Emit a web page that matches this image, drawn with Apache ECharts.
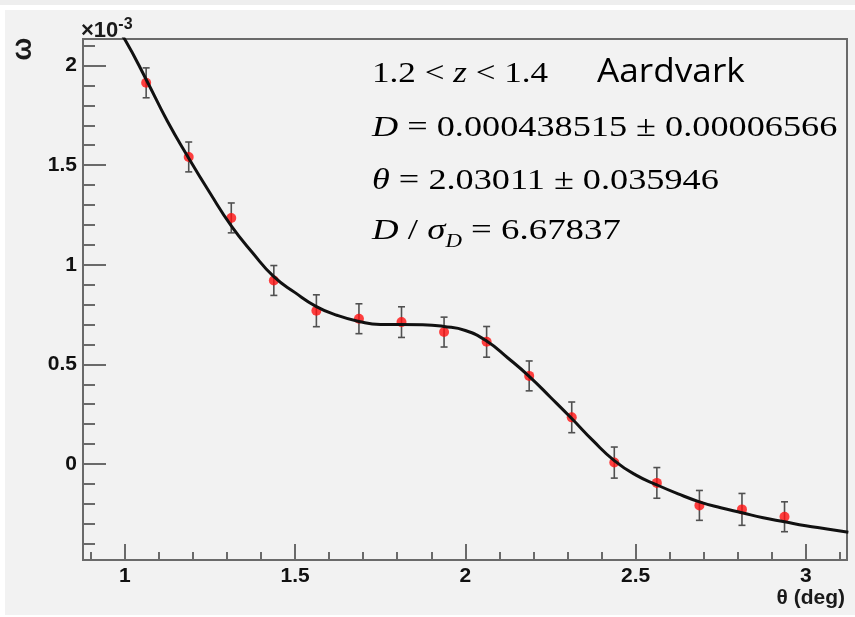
<!DOCTYPE html>
<html>
<head>
<meta charset="utf-8">
<script src="https://cdn.jsdelivr.net/npm/echarts@6/dist/echarts.min.js"></script>
<style>
html,body{margin:0;padding:0;background:#ffffff;}
#chart{width:855px;height:617px;}
</style>
</head>
<body>
<div id="chart"></div>
<script>
// ---- data (y values in units of 1e-3) ----
const pointsX = [1.0625, 1.1875, 1.3125, 1.4375, 1.5625, 1.6875, 1.8125, 1.9375, 2.0625, 2.1875, 2.3125, 2.4375, 2.5625, 2.6875, 2.8125, 2.9375];
const pointsY = [1.913, 1.541, 1.235, 0.921, 0.769, 0.729, 0.712, 0.662, 0.613, 0.442, 0.234, 0.007, -0.095, -0.208, -0.228, -0.265];
const pointsErr = [0.075, 0.075, 0.075, 0.075, 0.080, 0.075, 0.077, 0.075, 0.077, 0.075, 0.077, 0.078, 0.077, 0.075, 0.080, 0.075];

const fitX = [0.95, 1.0, 1.0625, 1.125, 1.1875, 1.25, 1.3125, 1.375, 1.4375, 1.5, 1.5625, 1.625, 1.6875, 1.75, 1.8125, 1.875, 1.9375, 2.0, 2.0625, 2.125, 2.1875, 2.25, 2.3125, 2.375, 2.4375, 2.5, 2.5625, 2.625, 2.6875, 2.75, 2.8125, 2.875, 2.9375, 3.0, 3.0625, 3.125];
const fitY = [2.26, 2.13, 1.93, 1.72, 1.535, 1.36, 1.195, 1.06, 0.94, 0.86, 0.79, 0.745, 0.715, 0.700, 0.700, 0.699, 0.690, 0.670, 0.617, 0.532, 0.440, 0.335, 0.228, 0.117, 0.017, -0.055, -0.105, -0.150, -0.190, -0.220, -0.245, -0.270, -0.290, -0.310, -0.326, -0.343];

const xMajorTicks = [1, 1.5, 2, 2.5, 3];
const xMinorTicks = [0.9, 1.0, 1.1, 1.2, 1.3, 1.4, 1.5, 1.6, 1.7, 1.8, 1.9, 2.0, 2.1, 2.2, 2.3, 2.4, 2.5, 2.6, 2.7, 2.8, 2.9, 3.0, 3.1];
const yMajorTicks = [0, 0.5, 1, 1.5, 2];
const yMinorTicks = [-0.4, -0.3, -0.2, -0.1, 0, 0.1, 0.2, 0.3, 0.4, 0.5, 0.6, 0.7, 0.8, 0.9, 1.0, 1.1, 1.2, 1.3, 1.4, 1.5, 1.6, 1.7, 1.8, 1.9, 2.0, 2.1];

const xMin = 0.877, xMax = 3.121, yMin = -0.482, yMax = 2.133;

const fitData = fitX.map((x, i) => [x, fitY[i]]);
const pointData = pointsX.map((x, i) => [x, pointsY[i]]);
const errData = pointsX.map((x, i) => [x, pointsY[i], pointsErr[i]]);

const axisGrey = '#6a6a6a';
const labelStyle = {color: '#111', fontFamily: 'Liberation Sans, Arial, sans-serif', fontWeight: 'bold', fontSize: 21};
const serif = 'Liberation Serif, Times New Roman, serif';
const sans = 'Liberation Sans, Arial, sans-serif';

const chart = echarts.init(document.getElementById('chart'), null, {renderer: 'canvas'});

chart.setOption({
  animation: false,
  backgroundColor: '#ffffff',
  grid: {left: 83, right: 8, top: 39, bottom: 57, show: true, borderColor: axisGrey, borderWidth: 2, backgroundColor: 'transparent'},
  xAxis: [
    {type: 'value', min: xMin, max: xMax, position: 'bottom',
     axisLine: {show: false, onZero: false}, splitLine: {show: false},
     axisTick: {show: true, inside: true, length: 16, customValues: xMajorTicks, lineStyle: {color: axisGrey, width: 2}},
     axisLabel: {show: true, customValues: xMajorTicks, margin: 6, ...labelStyle}},
    {type: 'value', min: xMin, max: xMax, position: 'bottom', offset: 0,
     axisLine: {show: false, onZero: false}, splitLine: {show: false},
     axisTick: {show: true, inside: true, length: 8, customValues: xMinorTicks, lineStyle: {color: axisGrey, width: 2}},
     axisLabel: {show: false}}
  ],
  yAxis: [
    {type: 'value', min: yMin, max: yMax, position: 'left',
     axisLine: {show: false, onZero: false}, splitLine: {show: false},
     axisTick: {show: true, inside: true, length: 23, customValues: yMajorTicks, lineStyle: {color: axisGrey, width: 2}},
     axisLabel: {show: true, customValues: yMajorTicks, margin: 6, ...labelStyle}},
    {type: 'value', min: yMin, max: yMax, position: 'left', offset: 0,
     axisLine: {show: false, onZero: false}, splitLine: {show: false},
     axisTick: {show: true, inside: true, length: 12, customValues: yMinorTicks, lineStyle: {color: axisGrey, width: 2}},
     axisLabel: {show: false}}
  ],
  series: [
    {type: 'custom', xAxisIndex: 0, yAxisIndex: 0, z: 2, clip: true,
     data: errData,
     renderItem: function (params, api) {
       const x = api.value(0), y = api.value(1), e = api.value(2);
       const top = api.coord([x, y + e]);
       const bot = api.coord([x, y - e]);
       const c = 3.5;
       const st = {stroke: '#505050', lineWidth: 1.6};
       return {type: 'group', children: [
         {type: 'line', shape: {x1: top[0], y1: top[1], x2: bot[0], y2: bot[1]}, style: st},
         {type: 'line', shape: {x1: top[0] - c, y1: top[1], x2: top[0] + c, y2: top[1]}, style: st},
         {type: 'line', shape: {x1: bot[0] - c, y1: bot[1], x2: bot[0] + c, y2: bot[1]}, style: st}
       ]};
     }},
    {type: 'scatter', xAxisIndex: 0, yAxisIndex: 0, z: 3, data: pointData,
     symbol: 'circle', symbolSize: 10, itemStyle: {color: '#ff1010'}},
    {type: 'line', xAxisIndex: 0, yAxisIndex: 0, z: 4, data: fitData, clip: true,
     showSymbol: false, smooth: 0.5,
     lineStyle: {color: '#111', width: 3}}
  ],
  graphic: [
    {type: 'rect', z: -10, shape: {x: 5, y: 10, width: 850, height: 605}, style: {fill: '#f2f2f2'}},
    {type: 'rect', z: -10, shape: {x: 0, y: 0, width: 855, height: 5}, style: {fill: '#eeeeee'}},
    {type: 'text', x: 81, y: 31, style: {text: '×10{s|-3}', fill: '#1a1a1a', fontFamily: sans, fontWeight: 'bold', fontSize: 22, verticalAlign: 'middle',
      rich: {s: {fontSize: 16, fontWeight: 'bold', fontFamily: sans, fill: '#1a1a1a', verticalAlign: 'top', padding: [0, 0, 12, 0]}}}},
    {type: 'text', x: 24, y: 49, rotation: Math.PI / 2, style: {text: 'ω', fill: '#1a1a1a', fontFamily: sans, fontWeight: 'bold', fontSize: 27, align: 'center', verticalAlign: 'middle'}},
    {type: 'text', x: 845, y: 598, style: {text: 'θ (deg)', fill: '#1a1a1a', fontFamily: sans, fontWeight: 'bold', fontSize: 21, align: 'right', verticalAlign: 'middle'}},
    {type: 'text', x: 372, y: 74, scaleX: 1.17, style: {text: '{t|1.2 < }{i|z}{t| < 1.4}', fill: '#000', verticalAlign: 'middle',
      rich: {t: {fontFamily: serif, fontSize: 30}, i: {fontFamily: serif, fontSize: 30, fontStyle: 'italic'}}}},
    {type: 'text', x: 597, y: 73, scaleX: 1.1, style: {text: 'Aardvark', fill: '#000', fontFamily: 'Open Sans', fontSize: 32, verticalAlign: 'middle'}},
    {type: 'text', x: 372, y: 128, scaleX: 1.25, style: {text: '{i|D}{t| = 0.000438515 ± 0.00006566}', fill: '#000', verticalAlign: 'middle',
      rich: {t: {fontFamily: serif, fontSize: 29}, i: {fontFamily: serif, fontSize: 29, fontStyle: 'italic'}}}},
    {type: 'text', x: 372, y: 181, scaleX: 1.25, style: {text: '{i|θ}{t| = 2.03011 ± 0.035946}', fill: '#000', verticalAlign: 'middle',
      rich: {t: {fontFamily: serif, fontSize: 29}, i: {fontFamily: serif, fontSize: 29, fontStyle: 'italic'}}}},
    {type: 'text', x: 372, y: 234, scaleX: 1.27, style: {text: '{i|D}{t| / }{i|σ}{s|D}{t| = 6.67837}', fill: '#000', verticalAlign: 'middle',
      rich: {t: {fontFamily: serif, fontSize: 29, verticalAlign: 'top'}, i: {fontFamily: serif, fontSize: 29, fontStyle: 'italic', verticalAlign: 'top'},
             s: {fontFamily: serif, fontSize: 18, fontStyle: 'italic', verticalAlign: 'top', padding: [16, 0, 0, 0]}}}}
  ]
});
</script>
</body>
</html>
